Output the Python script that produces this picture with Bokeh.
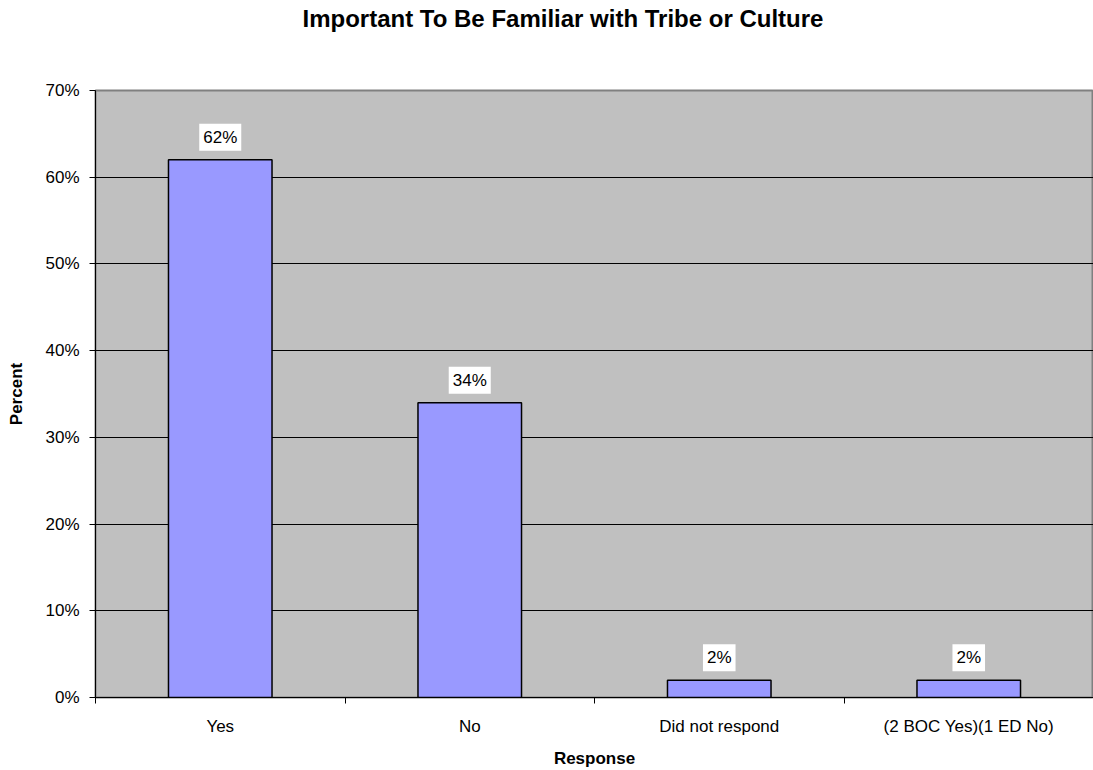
from bokeh.plotting import figure
from bokeh.models import FixedTicker, ColumnDataSource, Title, NumeralTickFormatter
from bokeh.core.properties import value
from bokeh.embed import file_html
from bokeh.resources import INLINE

categories = ["Yes", "No", "Did not respond", "(2 BOC Yes)(1 ED No)"]
percents = [62, 34, 2, 2]
y_ticks = [0, 10, 20, 30, 40, 50, 60, 70]

FONT = "Liberation Sans"

xs = list(range(1, len(categories) + 1))
src = ColumnDataSource(dict(x=xs, top=percents,
                            label=[f"{v}%" for v in percents]))

p = figure(width=1093, height=770, output_backend="svg", toolbar_location=None,
           x_range=(0.5, len(categories) + 0.5), y_range=(0, 70),
           min_border_left=95, min_border_right=0, min_border_top=90, min_border_bottom=70)
p.background_fill_color = "#C0C0C0"
p.border_fill_color = "white"
p.outline_line_color = "#808080"
p.outline_line_width = 2

p.vbar(x="x", top="top", width=0.415, source=src, fill_color="#9999FF",
       line_color="black", line_width=1.5)

p.text(x="x", y="top", text="label", source=src, text_align="center",
       text_baseline="bottom", y_offset=-9, text_font=value(FONT),
       text_font_size="17px", text_color="black",
       background_fill_color="white", padding=4)

# axes
p.xgrid.visible = False
p.ygrid.grid_line_color = "black"
p.ygrid.grid_line_width = 1
p.ygrid.ticker = FixedTicker(ticks=y_ticks)

p.yaxis.ticker = FixedTicker(ticks=y_ticks)
p.yaxis.formatter = NumeralTickFormatter(format="0")
p.yaxis.major_label_overrides = {t: f"{t}%" for t in y_ticks}
p.yaxis.major_tick_out = 6
p.yaxis.major_tick_in = 0
p.yaxis.minor_tick_line_color = None
p.yaxis.axis_line_color = "black"
p.yaxis.major_tick_line_color = "black"
p.yaxis.major_label_text_color = "black"
p.yaxis.major_label_text_font = FONT
p.yaxis.major_label_text_font_size = "17px"
p.yaxis.major_label_standoff = 10
p.yaxis.axis_label = "Percent"
p.yaxis.axis_label_text_color = "black"
p.yaxis.axis_label_text_font = FONT
p.yaxis.axis_label_text_font_style = "bold"
p.yaxis.axis_label_text_font_size = "17px"
p.yaxis.axis_label_standoff = 16

p.xaxis.ticker = FixedTicker(ticks=xs, minor_ticks=[0.5, 1.5, 2.5, 3.5, 4.5])
p.xaxis.major_label_overrides = {x: c for x, c in zip(xs, categories)}
p.xaxis.major_tick_line_color = None
p.xaxis.minor_tick_out = 6
p.xaxis.minor_tick_in = 0
p.xaxis.minor_tick_line_color = "black"
p.xaxis.axis_line_color = "black"
p.xaxis.major_label_text_color = "black"
p.xaxis.major_label_text_font = FONT
p.xaxis.major_label_text_font_size = "17px"
p.xaxis.major_label_standoff = 13
p.xaxis.axis_label = "Response"
p.xaxis.axis_label_text_color = "black"
p.xaxis.axis_label_text_font = FONT
p.xaxis.axis_label_text_font_style = "bold"
p.xaxis.axis_label_text_font_size = "17px"
p.xaxis.axis_label_standoff = 10

# chart title (the figure's own title, stacked farthest from the plot area)
p.title.text = "Important To Be Familiar with Tribe or Culture"
p.title.align = "left"
p.title.offset = 207
p.title.standoff = 0
p.title.vertical_align = "top"
p.title.text_color = "black"
p.title.text_font = FONT
p.title.text_font_style = "bold"
p.title.text_font_size = "24px"

# empty spacer between the title and the plot area
spacer = Title(text=" ", standoff=28, text_font=FONT, text_font_size="24px")
p.add_layout(spacer, "above")

open("out.html", "w").write(file_html(p, INLINE))
